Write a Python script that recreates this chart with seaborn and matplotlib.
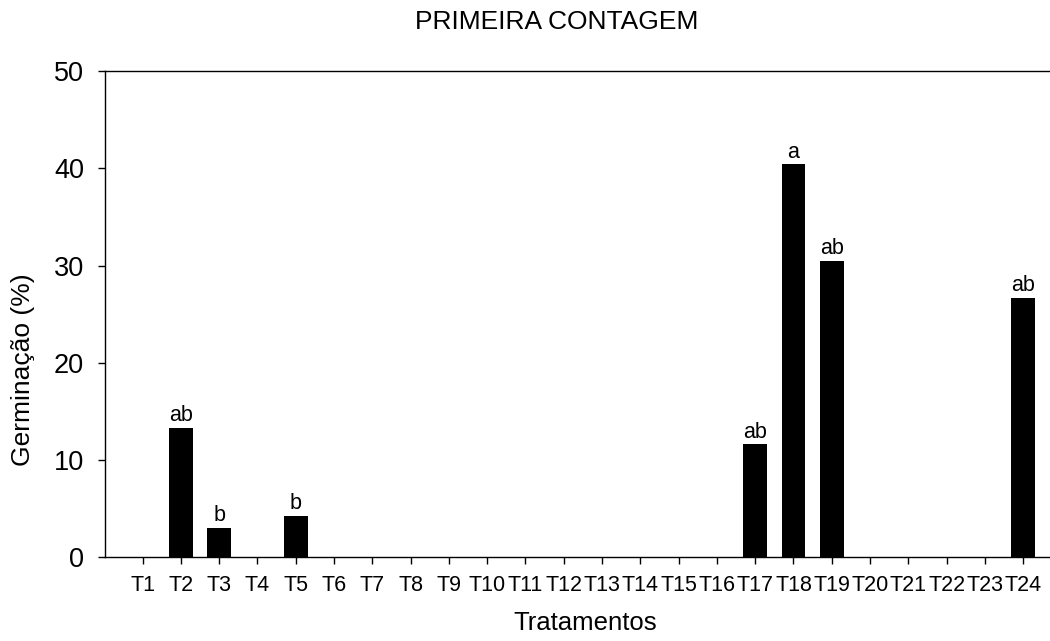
import matplotlib
matplotlib.use("Agg")
import matplotlib.pyplot as plt
import seaborn as sns
import pandas as pd

# Germination at first count, per treatment
tratamentos = [f"T{i}" for i in range(1, 25)]
germinacao = [0, 13.3, 3.0, 0, 4.2, 0, 0, 0, 0, 0, 0, 0, 0, 0, 0, 0,
              11.6, 40.4, 30.5, 0, 0, 0, 0, 26.7]
letras = ["", "ab", "b", "", "b", "", "", "", "", "", "", "", "", "", "", "",
          "ab", "a", "ab", "", "", "", "", "ab"]
yticks = [0, 10, 20, 30, 40, 50]

sns.set_theme(style="ticks")
plt.rcParams["font.family"] = ["Liberation Sans", "DejaVu Sans"]
plt.rcParams["text.color"] = "black"
plt.rcParams["axes.labelcolor"] = "black"
plt.rcParams["xtick.color"] = "black"
plt.rcParams["ytick.color"] = "black"

df = pd.DataFrame({"Tratamento": tratamentos, "Germinacao": germinacao})

fig = plt.figure(figsize=(10.5, 6.41), dpi=100)
ax = fig.add_axes([0.1, 0.131, 0.9, 0.758])

sns.barplot(data=df, x="Tratamento", y="Germinacao", color="black",
            saturation=1, width=0.62, ax=ax, linewidth=0)

# significance letters above each bar
for i, (v, lt) in enumerate(zip(germinacao, letras)):
    if lt:
        ax.text(i, v + 0.7, lt, ha="center", va="baseline", fontsize=15.5,
                color="black")

ax.set_ylim(0, 50)
ax.set_xlim(-0.983, 23.7)
ax.set_yticks(yticks)
ax.set_yticklabels([str(t) for t in yticks], fontsize=19.5)
ax.tick_params(axis="x", labelsize=15.5, length=5, width=1, pad=8,
               direction="out", colors="black")
ax.tick_params(axis="y", length=5, width=1, pad=10, direction="out",
               colors="black")

for side in ["left", "bottom", "top"]:
    ax.spines[side].set_visible(True)
    ax.spines[side].set_linewidth(1.0)
    ax.spines[side].set_color("black")
ax.spines["right"].set_visible(False)

ax.set_xlabel("")
ax.set_ylabel("")
fig.text(0.5305, 0.965, "PRIMEIRA CONTAGEM", ha="center", va="center",
         fontsize=19, color="black")
fig.text(0.557, 0.017, "Tratamentos", ha="center", va="baseline",
         fontsize=18.5, color="black")
fig.text(0.022, 0.423, "Germinação (%)", ha="center", va="center",
         rotation=90, fontsize=19, color="black")

fig.savefig("out.png", dpi=100)
